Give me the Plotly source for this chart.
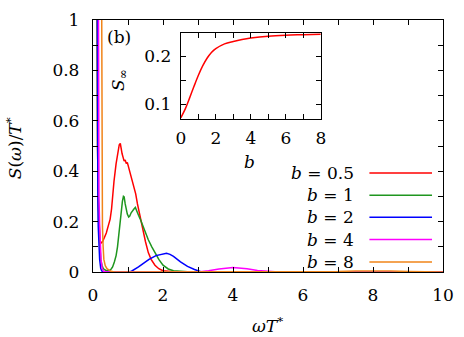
import plotly.graph_objects as go

# ---- data ----
red_x = [0.08, 0.10, 0.11, 0.13, 0.15, 0.17, 0.20, 0.23, 0.27, 0.32, 0.38, 0.44, 0.49, 0.53, 0.56, 0.60, 0.66, 0.71,
         0.75, 0.78, 0.80, 0.83, 0.86, 0.89, 0.92, 0.95, 0.98, 1.01, 1.04, 1.08, 1.12, 1.17, 1.22, 1.27, 1.31, 1.37,
         1.44, 1.50, 1.58, 1.66, 1.77, 1.88, 2.00, 2.15, 2.30, 2.60, 3.00, 10.0]
red_y = [3.0, 1.3, 1.0, 0.5, 0.28, 0.18, 0.125, 0.115, 0.12, 0.135, 0.155, 0.185, 0.21, 0.25, 0.30, 0.36, 0.43, 0.48,
         0.505, 0.51, 0.49, 0.47, 0.455, 0.44, 0.445, 0.43, 0.435, 0.42, 0.41, 0.39, 0.37, 0.345, 0.31, 0.27, 0.243,
         0.20, 0.154, 0.12, 0.077, 0.05, 0.027, 0.013, 0.005, 0.002, 0.0005, 0.0, 0.0, 0.0]

green_x = [0.08, 0.10, 0.11, 0.13, 0.16, 0.19, 0.22, 0.26, 0.30, 0.36, 0.42, 0.47, 0.52, 0.56, 0.61, 0.66, 0.70, 0.73,
           0.77, 0.80, 0.84, 0.87, 0.89, 0.92, 0.95, 0.98, 1.02, 1.05, 1.09, 1.13, 1.17, 1.21, 1.25, 1.30, 1.35, 1.40,
           1.49, 1.58, 1.68, 1.77, 1.88, 2.00, 2.15, 2.30, 2.50, 2.70, 3.00, 10.0]
green_y = [3.0, 1.3, 1.0, 0.5, 0.2, 0.1, 0.05, 0.025, 0.012, 0.007, 0.005, 0.006, 0.012, 0.02, 0.04, 0.065, 0.10, 0.141,
           0.19, 0.23, 0.28, 0.30, 0.298, 0.27, 0.245, 0.23, 0.218, 0.222, 0.235, 0.245, 0.25, 0.256, 0.245, 0.225,
           0.21, 0.192, 0.16, 0.128, 0.10, 0.077, 0.05, 0.027, 0.012, 0.005, 0.002, 0.0005, 0.0, 0.0]

blue_x = [0.09, 0.11, 0.12, 0.13, 0.14, 0.15, 0.17, 0.19, 0.22, 0.25, 0.30, 0.50, 1.00, 1.10, 1.20, 1.30, 1.40, 1.50,
          1.60, 1.80, 2.00, 2.10, 2.20, 2.30, 2.50, 2.70, 2.90, 3.10, 10.0]
blue_y = [3.0, 1.4, 1.0, 0.5, 0.3, 0.18, 0.1, 0.05, 0.015, 0.004, 0.001, 0.0, 0.0, 0.003, 0.01, 0.02, 0.03, 0.041,
          0.05, 0.065, 0.073, 0.074, 0.07, 0.062, 0.04, 0.022, 0.01, 0.0, 0.0]

magenta_x = [0.12, 0.14, 0.15, 0.16, 0.17, 0.19, 0.21, 0.23, 0.26, 0.30, 0.40, 3.00, 3.30, 3.60, 4.00, 4.40, 4.70,
             5.00, 5.30, 10.0]
magenta_y = [3.0, 1.4, 1.0, 0.5, 0.3, 0.18, 0.1, 0.05, 0.015, 0.003, 0.0, 0.0, 0.005, 0.012, 0.018, 0.013, 0.006,
             0.002, 0.0, 0.0]

orange_x = [0.20, 0.23, 0.24, 0.25, 0.26, 0.27, 0.29, 0.31, 0.35, 0.40, 0.45, 0.50, 0.60, 6.50, 7.00, 7.50, 8.00,
            8.50, 9.00, 9.50, 10.0]
orange_y = [3.0, 1.4, 1.0, 0.5, 0.3, 0.18, 0.1, 0.05, 0.025, 0.013, 0.008, 0.004, 0.0, 0.0, 0.002, 0.004, 0.005,
            0.004, 0.002, 0.0, 0.0]

inset_b = [0, 0.25, 0.5, 0.75, 1, 1.25, 1.5, 1.75, 2, 2.5, 3, 3.5, 4, 5, 6, 7, 8]
inset_s = [0.072, 0.09, 0.113, 0.137, 0.16, 0.18, 0.196, 0.208, 0.216, 0.226, 0.231, 0.235, 0.238, 0.242, 0.244,
           0.245, 0.246]

labels = ["<i>b</i> = 0.5", "<i>b</i> = 1", "<i>b</i> = 2", "<i>b</i> = 4", "<i>b</i> = 8"]
colors = ["#ff0000", "#1f961f", "#0000ff", "#ff00ff", "#f08418"]

# ---- figure ----
FONT = "DejaVu Serif"
FS = 17
W, H = 464, 337
L, R, T, B = 93, 11, 10, 65
PW, PH = W - L - R, H - T - B


def px(x):
    return (x - L) / PW


def py(y):
    return (H - B - y) / PH


fig = go.Figure()
series = [(red_x, red_y), (green_x, green_y), (blue_x, blue_y), (magenta_x, magenta_y), (orange_x, orange_y)]
for (xs, ys), c, lab in zip(series, colors, labels):
    fig.add_trace(go.Scatter(x=xs, y=ys, mode="lines", line=dict(color=c, width=1.5), name=lab,
                             showlegend=False, hoverinfo="skip", xaxis="x", yaxis="y"))

fig.add_trace(go.Scatter(x=inset_b, y=inset_s, mode="lines", line=dict(color="#ff0000", width=1.5, shape="spline"),
                         showlegend=False, hoverinfo="skip", xaxis="x2", yaxis="y2"))

axis_common = dict(showline=True, linecolor="black", linewidth=1.3, mirror="ticks", ticks="inside",
                   ticklen=5, tickwidth=1.2, tickcolor="black", showgrid=False, zeroline=False,
                   tickfont=dict(family=FONT, size=FS, color="black"))
minor_common = dict(ticks="inside", ticklen=5, tickwidth=1.2, tickcolor="black", showgrid=False)

fig.update_layout(
    width=W, height=H,
    margin=dict(l=L, r=R, t=T, b=B),
    paper_bgcolor="white", plot_bgcolor="white",
    font=dict(family=FONT, size=FS, color="black"),
    xaxis=dict(range=[0, 10], tickmode="linear", tick0=0, dtick=2, domain=[0, 1],
               minor=dict(dtick=1, **minor_common), ticklabelstandoff=7, **axis_common),
    yaxis=dict(range=[0, 1], tickmode="linear", tick0=0, dtick=0.2, domain=[0, 1],
               minor=dict(dtick=0.1, **minor_common), ticklabelstandoff=9, **axis_common),
    xaxis2=dict(range=[0, 8], tickmode="linear", tick0=0, dtick=2,
                minor=dict(dtick=1, **minor_common), ticklabelstandoff=4,
                domain=[px(183.3), px(327.3)], anchor="y2", **axis_common),
    yaxis2=dict(range=[0.07, 0.249], tickmode="linear", tick0=0, dtick=0.1,
                minor=dict(dtick=0.05, **minor_common),
                domain=[py(112.7), py(23.3)], anchor="x2", ticklabelstandoff=5, **axis_common),
)

ann = [
    dict(x=px(272), y=py(327), text="<i>ωT</i><sup>*</sup>"),
    dict(x=px(12), y=py(143), text="<i>S</i>(<i>ω</i>)/<i>T</i><sup>*</sup>", textangle=-90),
    dict(x=px(120), y=py(28), text="(b)"),
    dict(x=px(120), y=py(72), text="<i>S</i><sub>∞</sub>", textangle=-90),
    dict(x=px(254), y=py(158), text="<i>b</i>"),
]
for a in ann:
    fig.add_annotation(xref="paper", yref="paper", showarrow=False, font=dict(family=FONT, size=FS, color="black"),
                       xanchor="center", yanchor="middle", **a)

rows = [169, 192.3, 215, 238.3, 261.7]
for lab, c, ry in zip(labels, colors, rows):
    fig.add_annotation(xref="paper", yref="paper", x=px(363), y=py(ry), text=lab, showarrow=False,
                       xanchor="right", yanchor="middle", font=dict(family=FONT, size=FS, color="black"))
    fig.add_shape(type="line", xref="paper", yref="paper", x0=px(377.3), x1=px(441.7), y0=py(ry), y1=py(ry),
                  line=dict(color=c, width=1.5))

fig.write_html("out.html", config={"displayModeBar": False},
               post_script="document.body.style.margin='0';document.body.style.overflow='hidden';")
